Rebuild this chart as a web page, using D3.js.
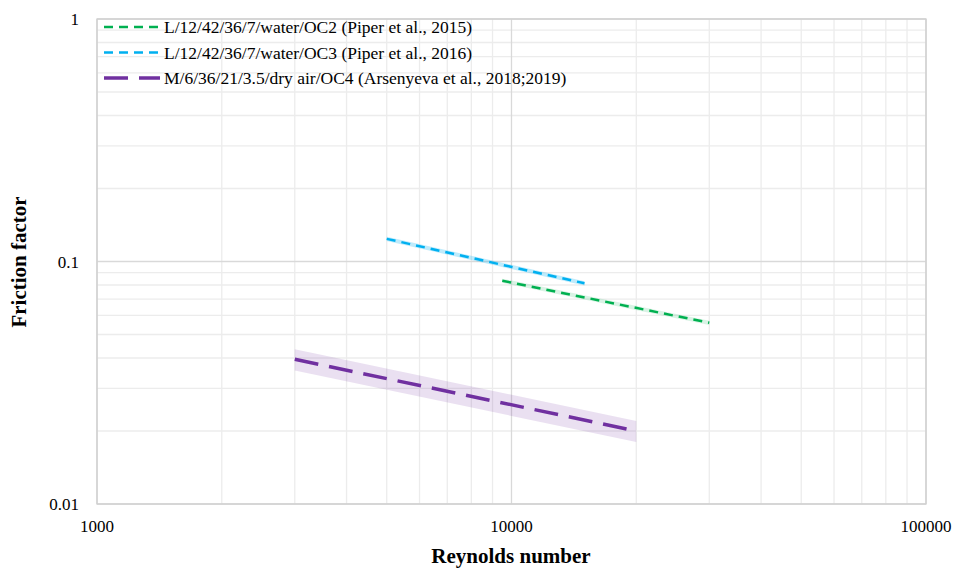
<!DOCTYPE html>
<html>
<head>
<meta charset="utf-8">
<script src="https://cdn.jsdelivr.net/npm/d3@7"></script>
<style>
  body { margin: 0; background: #fff; }
  text { font-family: "Liberation Serif", "Times New Roman", serif; }
</style>
</head>
<body>
<svg width="954" height="568"></svg>
<script>
// data
var seriesNames = [
  "L/12/42/36/7/water/OC2 (Piper et al., 2015)",
  "L/12/42/36/7/water/OC3 (Piper et al., 2016)",
  "M/6/36/21/3.5/dry air/OC4 (Arsenyeva et al., 2018;2019)"
];
var oc2Re = [9500, 30000];
var oc2F = [0.0833, 0.0559];
var oc3Re = [5000, 15000];
var oc3F = [0.124, 0.0813];
var oc4Re = [3000, 20000];
var oc4F = [0.0395, 0.020];
var bandFrac = [0.02, 0.02, 0.10];   // uncertainty band around each line
var xTicks = [1000, 10000, 100000];
var yTicks = [0.01, 0.1, 1];

var svg = d3.select("svg");
var pLeft = 97, pRight = 926, pTop = 19, pBottom = 504;

var x = d3.scaleLog().domain([1000, 100000]).range([pLeft, pRight]);
var y = d3.scaleLog().domain([0.01, 1]).range([pBottom, pTop]);

// minor grid
var minorX = [], minorY = [];
[1000, 10000].forEach(function(d) { for (var k = 2; k <= 9; k++) minorX.push(d * k); });
[0.01, 0.1].forEach(function(d) { for (var k = 2; k <= 9; k++) minorY.push(d * k); });

var grid = svg.append("g");
grid.selectAll(".mx").data(minorX).enter().append("line")
  .attr("x1", function(d) { return x(d); }).attr("x2", function(d) { return x(d); })
  .attr("y1", pTop).attr("y2", pBottom)
  .attr("stroke", "#ececec").attr("stroke-width", 1.3);
grid.selectAll(".my").data(minorY).enter().append("line")
  .attr("y1", function(d) { return y(d); }).attr("y2", function(d) { return y(d); })
  .attr("x1", pLeft).attr("x2", pRight)
  .attr("stroke", "#ececec").attr("stroke-width", 1.3);
grid.selectAll(".Mx").data(xTicks).enter().append("line")
  .attr("x1", function(d) { return x(d); }).attr("x2", function(d) { return x(d); })
  .attr("y1", pTop).attr("y2", pBottom)
  .attr("stroke", "#d9d9d9").attr("stroke-width", 1.3);
grid.selectAll(".My").data(yTicks).enter().append("line")
  .attr("y1", function(d) { return y(d); }).attr("y2", function(d) { return y(d); })
  .attr("x1", pLeft).attr("x2", pRight)
  .attr("stroke", "#d9d9d9").attr("stroke-width", 1.3);

// tick labels
svg.selectAll(".xl").data(xTicks).enter().append("text")
  .attr("x", function(d) { return x(d); }).attr("y", 532)
  .attr("text-anchor", "middle").attr("font-size", 17).text(function(d) { return d; });
svg.selectAll(".yl").data(yTicks).enter().append("text")
  .attr("x", 79).attr("y", function(d) { return y(d) + 6; })
  .attr("text-anchor", "end").attr("font-size", 17).text(function(d) { return d; });

svg.append("text").attr("x", 511).attr("y", 563).attr("text-anchor", "middle")
  .attr("font-size", 21).attr("font-weight", "bold").text("Reynolds number");
svg.append("text").attr("transform", "translate(26,262) rotate(-90)").attr("text-anchor", "middle")
  .attr("font-size", 21).attr("font-weight", "bold").text("Friction factor");

// series
var series = [
  { re: oc2Re, f: oc2F, color: "#00b050", band: "rgba(0,176,80,0.15)", w: 2.5, dash: "9,6" },
  { re: oc3Re, f: oc3F, color: "#00b0f0", band: "rgba(0,176,240,0.25)", w: 2.5, dash: "9,6" },
  { re: oc4Re, f: oc4F, color: "#7030a0", band: "rgba(112,48,160,0.15)", w: 3.5, dash: "24,11" }
];

var line = d3.line().x(function(d) { return x(d[0]); }).y(function(d) { return y(d[1]); });
var area = d3.area().x(function(d) { return x(d[0]); })
  .y0(function(d) { return y(d[2]); }).y1(function(d) { return y(d[3]); });

series.forEach(function(s, i) {
  var pts = s.re.map(function(r, j) {
    return [r, s.f[j], s.f[j] * (1 - bandFrac[i]), s.f[j] * (1 + bandFrac[i])];
  });
  svg.append("path").attr("d", area(pts)).attr("fill", s.band);
  svg.append("path").attr("d", line(pts)).attr("fill", "none")
    .attr("stroke", s.color).attr("stroke-width", s.w).attr("stroke-dasharray", s.dash);
});

// plot border
svg.append("rect").attr("x", pLeft).attr("y", pTop).attr("width", pRight - pLeft).attr("height", pBottom - pTop)
  .attr("fill", "none").attr("stroke", "#d0d0d0").attr("stroke-width", 1.3);

// legend
var lg = svg.append("g");
series.forEach(function(s, i) {
  var ly = 27 + i * 25.5;
  lg.append("line").attr("x1", 104).attr("x2", 160).attr("y1", ly).attr("y2", ly)
    .attr("stroke", s.color).attr("stroke-width", s.w).attr("stroke-dasharray", s.dash);
  lg.append("text").attr("x", 164).attr("y", ly + 6).attr("font-size", 17.5).text(seriesNames[i]);
});
</script>
</body>
</html>
